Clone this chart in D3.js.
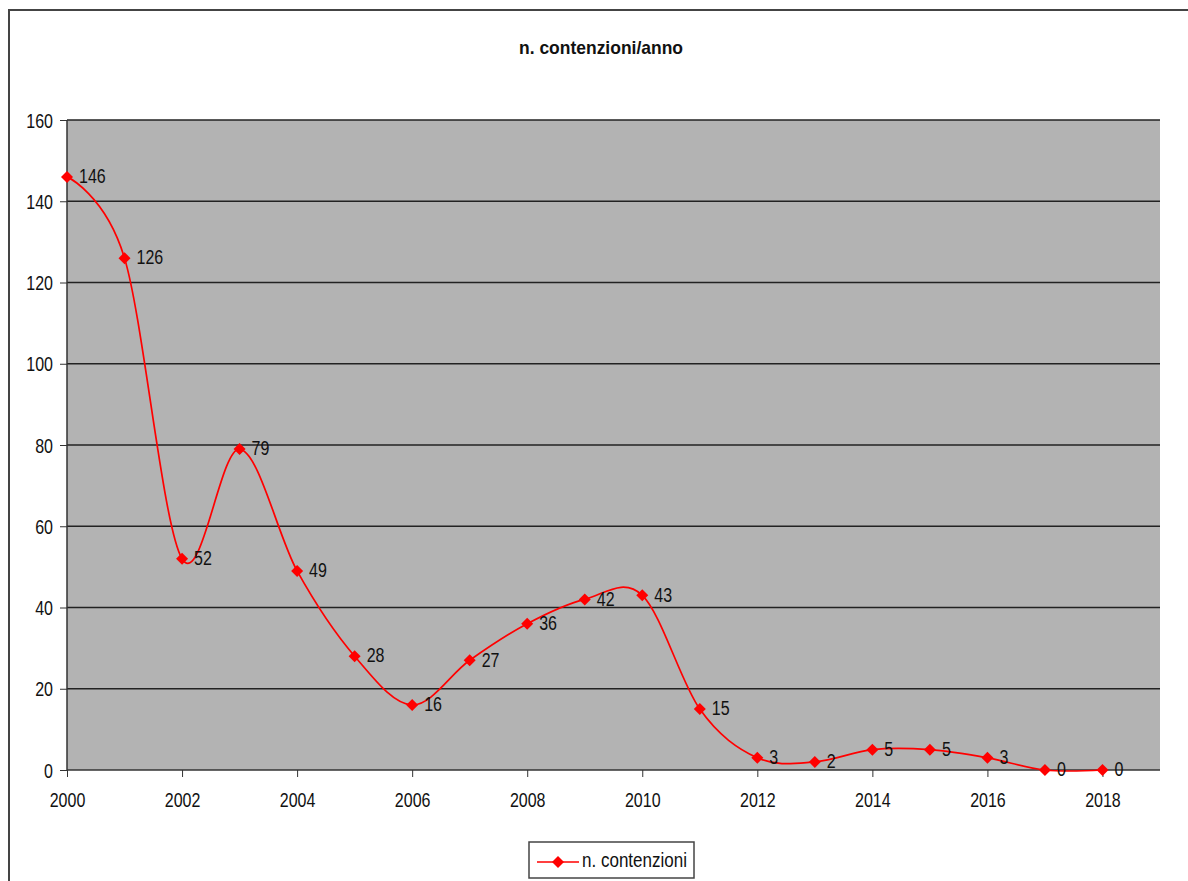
<!DOCTYPE html>
<html>
<head>
<meta charset="utf-8">
<script src="https://cdn.jsdelivr.net/npm/d3@7"></script>
<style>
  body { margin: 0; background: #fff; }
  text { font-family: "Liberation Sans", Arial, sans-serif; fill: #111; }
</style>
</head>
<body>
<div id="chart"></div>
<script>
// data
var years = [2000, 2001, 2002, 2003, 2004, 2005, 2006, 2007, 2008, 2009,
             2010, 2011, 2012, 2013, 2014, 2015, 2016, 2017, 2018];
var counts = [146, 126, 52, 79, 49, 28, 16, 27, 36, 42,
              43, 15, 3, 2, 5, 5, 3, 0, 0];
var yTicks = [0, 20, 40, 60, 80, 100, 120, 140, 160];
var xTicks = [2000, 2002, 2004, 2006, 2008, 2010, 2012, 2014, 2016, 2018];
var seriesName = "n. contenzioni";
var chartTitle = "n. contenzioni/anno";

var W = 1188, H = 881;
var plot = {left: 67, top: 120, right: 1160, bottom: 770};
//the original picture is stretched vertically, so text is too
var stretch = 1.25;

var svg = d3.select("#chart").append("svg")
  .attr("width", W)
  .attr("height", H);

//outer frame
svg.append("rect")
  .attr("x", 9).attr("y", 10)
  .attr("width", 1300).attr("height", 1000)
  .attr("fill", "none")
  .attr("stroke", "#444")
  .attr("stroke-width", 2);

//title
svg.append("text")
  .attr("transform", "translate(601,54) scale(1," + stretch + ")")
  .attr("text-anchor", "middle")
  .attr("font-size", 14)
  .attr("font-weight", "bold")
  .attr("textLength", 164)
  .attr("lengthAdjust", "spacingAndGlyphs")
  .text(chartTitle);

var x = d3.scaleLinear().domain([2000, 2019]).range([plot.left, plot.right]);
var y = d3.scaleLinear().domain([0, 160]).range([plot.bottom, plot.top]);

//plot background
svg.append("rect")
  .attr("x", plot.left).attr("y", plot.top)
  .attr("width", plot.right - plot.left)
  .attr("height", plot.bottom - plot.top)
  .attr("fill", "#b3b3b3");

//gridlines
svg.append("g").attr("class", "grid")
  .selectAll("line")
  .data(yTicks.filter(function(d) { return d > 0; }))
  .enter().append("line")
  .attr("x1", plot.left).attr("x2", plot.right)
  .attr("y1", function(d) { return y(d); })
  .attr("y2", function(d) { return y(d); })
  .attr("stroke", "#222")
  .attr("stroke-width", 1.5);

//y axis
var yAxis = svg.append("g")
  .attr("transform", "translate(" + plot.left + ",0)")
  .call(d3.axisLeft(y).tickValues(yTicks).tickSize(7).tickPadding(6).tickFormat(d3.format("d")));

//x axis
var xAxis = svg.append("g")
  .attr("transform", "translate(0," + plot.bottom + ")")
  .call(d3.axisBottom(x).tickValues(xTicks).tickSize(7).tickPadding(9).tickFormat(d3.format("d")));

[yAxis, xAxis].forEach(function(a) {
  a.select(".domain").attr("stroke", "#333").attr("stroke-width", 1.5);
  a.selectAll(".tick line").attr("stroke", "#333").attr("stroke-width", 1);
  a.selectAll(".tick text")
    .attr("font-size", 16)
    .attr("font-family", "Liberation Sans, Arial, sans-serif")
    .attr("fill", "#111");
});
yAxis.select(".domain").attr("d", "M0," + plot.bottom + "V" + plot.top);
xAxis.select(".domain").attr("d", "M" + plot.left + ",0H" + plot.right);

//stretch the tick labels like the original
yAxis.selectAll(".tick text")
  .attr("x", 0)
  .attr("dy", "0.35em")
  .attr("transform", "translate(-14,0) scale(1," + stretch + ")");
xAxis.selectAll(".tick text")
  .attr("y", 0)
  .attr("dy", "0.72em")
  .attr("transform", "translate(0,23) scale(1," + stretch + ")");

//series line (Excel style smoothing)
var pts = years.map(function(d, i) { return {year: d, value: counts[i]}; });

var line = d3.line()
  .x(function(d) { return x(d.year); })
  .y(function(d) { return y(d.value); })
  .curve(d3.curveCatmullRom.alpha(0));

svg.append("path")
  .datum(pts)
  .attr("d", line)
  .attr("fill", "none")
  .attr("stroke", "#ff0000")
  .attr("stroke-width", 1.7);

var diamond = "M0,-6L6,0L0,6L-6,0Z";

svg.append("g").attr("class", "markers")
  .selectAll("path")
  .data(pts)
  .enter().append("path")
  .attr("transform", function(d) { return "translate(" + x(d.year) + "," + y(d.value) + ")"; })
  .attr("d", diamond)
  .attr("fill", "#ff0000");

//data labels
svg.append("g").attr("class", "labels")
  .selectAll("text")
  .data(pts)
  .enter().append("text")
  .attr("transform", function(d) {
    return "translate(" + (x(d.year) + 12) + "," + (y(d.value) - 1) + ") scale(1," + stretch + ")";
  })
  .attr("dy", "0.36em")
  .attr("font-size", 16)
  .text(function(d) { return d.value; });

//legend
var legend = svg.append("g").attr("class", "legend");
legend.append("rect")
  .attr("x", 529).attr("y", 842)
  .attr("width", 165).attr("height", 36)
  .attr("fill", "#fff")
  .attr("stroke", "#444")
  .attr("stroke-width", 1.5);
legend.append("line")
  .attr("x1", 537).attr("x2", 579)
  .attr("y1", 862).attr("y2", 862)
  .attr("stroke", "#ff0000")
  .attr("stroke-width", 1.7);
legend.append("path")
  .attr("transform", "translate(558,862)")
  .attr("d", diamond)
  .attr("fill", "#ff0000");
legend.append("text")
  .attr("transform", "translate(582,867) scale(1," + stretch + ")")
  .attr("font-size", 16)
  .attr("textLength", 105)
  .attr("lengthAdjust", "spacingAndGlyphs")
  .text(seriesName);
</script>
</body>
</html>
